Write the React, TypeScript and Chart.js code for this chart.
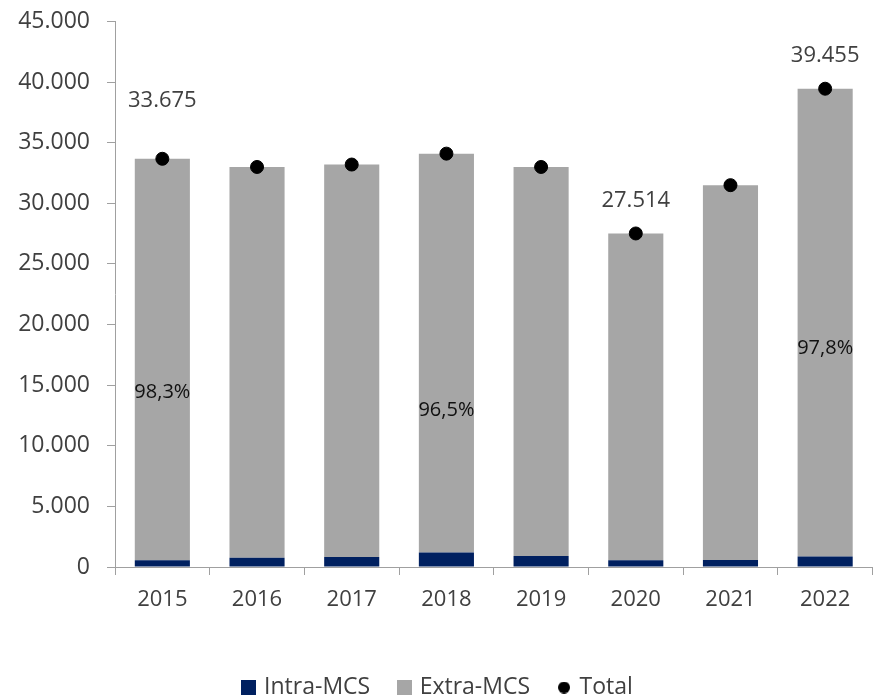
import React, { useEffect, useRef } from "react";
import { Chart, registerables } from "chart.js";

Chart.register(...registerables);

const years = ["2015", "2016", "2017", "2018", "2019", "2020", "2021", "2022"];
const intraMCS = [560, 760, 830, 1190, 900, 550, 580, 860];
const extraMCS = [33115, 32240, 32370, 32910, 32100, 26964, 30920, 38595];
const totals = [33675, 33000, 33200, 34100, 33000, 27514, 31500, 39455];
const labeledTotalYears = ["2015", "2020", "2022"];
const shareLabels = ["98,3%", "", "", "96,5%", "", "", "", "97,8%"];
const yTickValues = [0, 5000, 10000, 15000, 20000, 25000, 30000, 35000, 40000, 45000];

const FONT = "'Open Sans', 'Noto Sans', sans-serif";
const NAVY = "#002060";
const GREY = "#A6A6A6";
const TEXT = "#404040";
const AXIS = "#A0A0A0";

const fmt = (v: number) => String(Math.round(v)).replace(/\B(?=(\d{3})+(?!\d))/g, ".");

// label placement (presentation only)
const totalLabelLift: Record<number, number> = { 0: 58 };
const shareLabelAt: Record<number, number> = { 0: 14420, 3: 12940, 7: 18050 };

const labelsPlugin = {
  id: "valueLabels",
  afterDatasetsDraw(chart: any) {
    const ctx = chart.ctx as CanvasRenderingContext2D;
    const yScale = chart.scales.y;
    const totalMeta = chart.getDatasetMeta(2);
    const extraMeta = chart.getDatasetMeta(1);
    ctx.save();
    ctx.textAlign = "center";
    ctx.textBaseline = "middle";
    ctx.font = `22px ${FONT}`;
    ctx.fillStyle = TEXT;
    years.forEach((yr, i) => {
      if (!labeledTotalYears.includes(yr)) return;
      const pt = totalMeta.data[i];
      const lift = totalLabelLift[i] ?? 33;
      ctx.fillText(fmt(totals[i]), pt.x, pt.y - lift);
    });
    ctx.font = `20px ${FONT}`;
    ctx.fillStyle = "#111111";
    shareLabels.forEach((s, i) => {
      if (!s) return;
      const bar = extraMeta.data[i];
      const yv = shareLabelAt[i] ?? (intraMCS[i] + extraMCS[i] / 2);
      ctx.fillText(s, bar.x, yScale.getPixelForValue(yv));
    });
    ctx.restore();
  },
};

function makeMarker(kind: "rect" | "circle", color: string, size: number) {
  const c = document.createElement("canvas");
  c.width = size;
  c.height = size;
  const g = c.getContext("2d")!;
  g.fillStyle = color;
  if (kind === "rect") {
    g.fillRect(0, 0, size, size);
  } else {
    g.beginPath();
    g.arc(size / 2, size / 2, size / 2, 0, Math.PI * 2);
    g.fill();
  }
  return c;
}

export default function App() {
  const ref = useRef<HTMLCanvasElement | null>(null);

  useEffect(() => {
    if (!ref.current) return;
    const markers = [
      makeMarker("rect", NAVY, 15),
      makeMarker("rect", GREY, 15),
      makeMarker("circle", "#000000", 12),
    ];
    const chart = new Chart(ref.current, {
      type: "bar",
      data: {
        labels: years,
        datasets: [
          {
            type: "bar",
            label: "Intra-MCS",
            data: intraMCS,
            backgroundColor: NAVY,
            stack: "bars",
            order: 1,
            barPercentage: 0.582,
            categoryPercentage: 1,
          },
          {
            type: "bar",
            label: "Extra-MCS",
            data: extraMCS,
            backgroundColor: GREY,
            stack: "bars",
            order: 1,
            barPercentage: 0.582,
            categoryPercentage: 1,
          },
          {
            type: "line",
            label: "Total",
            data: totals,
            stack: "total",
            order: 0,
            showLine: false,
            pointRadius: 6.5,
            pointHoverRadius: 6.5,
            pointBackgroundColor: "#000000",
            pointBorderColor: "#000000",
            pointBorderWidth: 1,
            borderColor: "#000000",
            backgroundColor: "#000000",
          },
        ],
      } as any,
      options: {
        responsive: false,
        animation: false,
        layout: { padding: { top: 21.5, right: 2.6, left: 0, bottom: 0 } },
        plugins: {
          tooltip: { enabled: false },
          legend: {
            position: "bottom",
            labels: {
              usePointStyle: true,
              boxWidth: 8,
              padding: 30,
              color: TEXT,
              font: { family: FONT, size: 23 },
              generateLabels: (c: any) => {
                const items = (Chart.defaults.plugins.legend.labels as any).generateLabels(c);
                return items
                  .map((it: any) => ({ ...it, pointStyle: markers[it.datasetIndex] }))
                  .sort((a: any, b: any) => a.datasetIndex - b.datasetIndex);
              },
            },
          },
        },
        scales: {
          x: {
            stacked: true,
            grid: {
              display: true,
              offset: true,
              drawOnChartArea: false,
              drawTicks: true,
              tickLength: 8,
              color: AXIS,
            },
            border: { display: true, color: AXIS, width: 1 },
            ticks: { color: TEXT, font: { family: FONT, size: 22 }, padding: 12 },
            afterFit: (s: any) => {
              s.height = 79;
            },
          },
          y: {
            stacked: true,
            min: 0,
            max: 45000,
            grid: {
              display: true,
              drawOnChartArea: false,
              drawTicks: true,
              tickLength: 8,
              color: AXIS,
            },
            border: { display: true, color: AXIS, width: 1 },
            afterBuildTicks: (s: any) => {
              s.ticks = yTickValues.map((v) => ({ value: v }));
            },
            ticks: {
              color: TEXT,
              font: { family: FONT, size: 23 },
              padding: 17,
              callback: (v: any) => fmt(Number(v)),
            },
            afterFit: (s: any) => {
              s.width = 115;
              s.paddingTop = 0;
              s.paddingBottom = 0;
            },
          },
        },
      } as any,
      plugins: [labelsPlugin],
    });
    return () => chart.destroy();
  }, []);

  return (
    <div style={{ position: "fixed", left: 0, top: 0, width: 880, height: 709, background: "#fff" }}>
      <canvas ref={ref} width={880} height={709} style={{ width: 880, height: 709, display: "block" }} />
    </div>
  );
}
